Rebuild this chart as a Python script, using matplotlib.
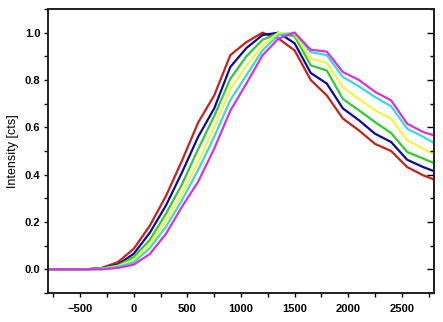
import matplotlib
matplotlib.use("Agg")
import matplotlib.pyplot as plt
from matplotlib.ticker import MultipleLocator

x = [-800, -750, -600, -450, -300, -150, 0, 150, 300, 450, 600, 750, 900, 1050, 1200,
     1350, 1500, 1650, 1800, 1950, 2100, 2250, 2400, 2550, 2700, 2800]

red     = [0, 0, 0, 0, 0.006, 0.03, 0.087, 0.185, 0.31, 0.46, 0.62, 0.735, 0.905, 0.96, 1.0,
           0.975, 0.925, 0.80, 0.735, 0.637, 0.587, 0.53, 0.50, 0.432, 0.397, 0.38]
navy    = [0, 0, 0, 0, 0.005, 0.02, 0.066, 0.155, 0.27, 0.41, 0.56, 0.68, 0.855, 0.935, 0.99,
           1.0, 0.955, 0.83, 0.785, 0.68, 0.63, 0.573, 0.538, 0.463, 0.432, 0.415]
green   = [0, 0, 0, 0, 0.004, 0.016, 0.052, 0.125, 0.235, 0.36, 0.508, 0.648, 0.805, 0.90, 0.97,
           0.997, 0.985, 0.862, 0.84, 0.72, 0.672, 0.622, 0.576, 0.496, 0.468, 0.449]
yellow  = [0, 0, 0, 0, 0.003, 0.013, 0.04, 0.105, 0.205, 0.32, 0.454, 0.60, 0.76, 0.86, 0.945,
           1.0, 0.995, 0.89, 0.872, 0.77, 0.72, 0.672, 0.637, 0.545, 0.51, 0.486]
cyan    = [0, 0, 0, 0, 0.002, 0.01, 0.03, 0.09, 0.18, 0.293, 0.42, 0.56, 0.715, 0.82, 0.925,
           0.99, 1.0, 0.918, 0.905, 0.813, 0.773, 0.728, 0.689, 0.594, 0.56, 0.534]
magenta = [0, 0, 0, 0, 0.0, 0.006, 0.02, 0.065, 0.15, 0.265, 0.37, 0.51, 0.67, 0.785, 0.904,
           0.975, 1.0, 0.928, 0.92, 0.834, 0.80, 0.75, 0.714, 0.615, 0.58, 0.566]

series = [red, navy, green, yellow, cyan, magenta]
colors = ["#c8201c", "#0a0a9a", "#2ecc2e", "#f5f542", "#3ad8e0", "#d634d6"]

plt.rcParams['font.family'] = ['Liberation Sans', 'DejaVu Sans']

fig = plt.figure(figsize=(4.43, 3.22), dpi=100)
ax = fig.add_axes([0.1084, 0.09, 0.8713, 0.882])

for ys, c in zip(series, colors):
    ax.plot(x, ys, color=c, lw=1.6, solid_joinstyle='miter')

ax.set_xlim(-800, 2800)
ax.set_ylim(-0.1, 1.1)
ax.xaxis.set_major_locator(MultipleLocator(500))
ax.xaxis.set_minor_locator(MultipleLocator(250))
ax.yaxis.set_minor_locator(MultipleLocator(0.1))
ax.set_yticks([0.0, 0.2, 0.4, 0.6, 0.8, 1.0])
ax.set_yticklabels(["0.0", "0.2", "0.4", "0.6", "0.8", "1.0"])

ax.tick_params(axis='x', which='both', direction='out', top=False, width=1.0,
               length=3, labelsize=8, pad=5)
ax.tick_params(axis='y', which='both', direction='out', left=True, right=False,
               width=1.0, length=3, labelsize=8, pad=2.5)
for lab in ax.get_xticklabels() + ax.get_yticklabels():
    lab.set_fontweight('bold')

# right-side inward ticks
ax2 = ax.twinx()
ax2.set_ylim(ax.get_ylim())
ax2.yaxis.set_major_locator(MultipleLocator(0.2))
ax2.yaxis.set_minor_locator(MultipleLocator(0.1))
ax2.tick_params(axis='y', which='both', direction='in', labelright=False, width=1.0)
ax2.tick_params(axis='y', which='major', length=5)
ax2.tick_params(axis='y', which='minor', length=3)

for a in (ax, ax2):
    for s in a.spines.values():
        s.set_linewidth(1.3)
        s.set_color('#222222')

ax.set_ylabel("Intensity [cts]", fontsize=9, labelpad=4)

fig.savefig("out.png", dpi=100)
